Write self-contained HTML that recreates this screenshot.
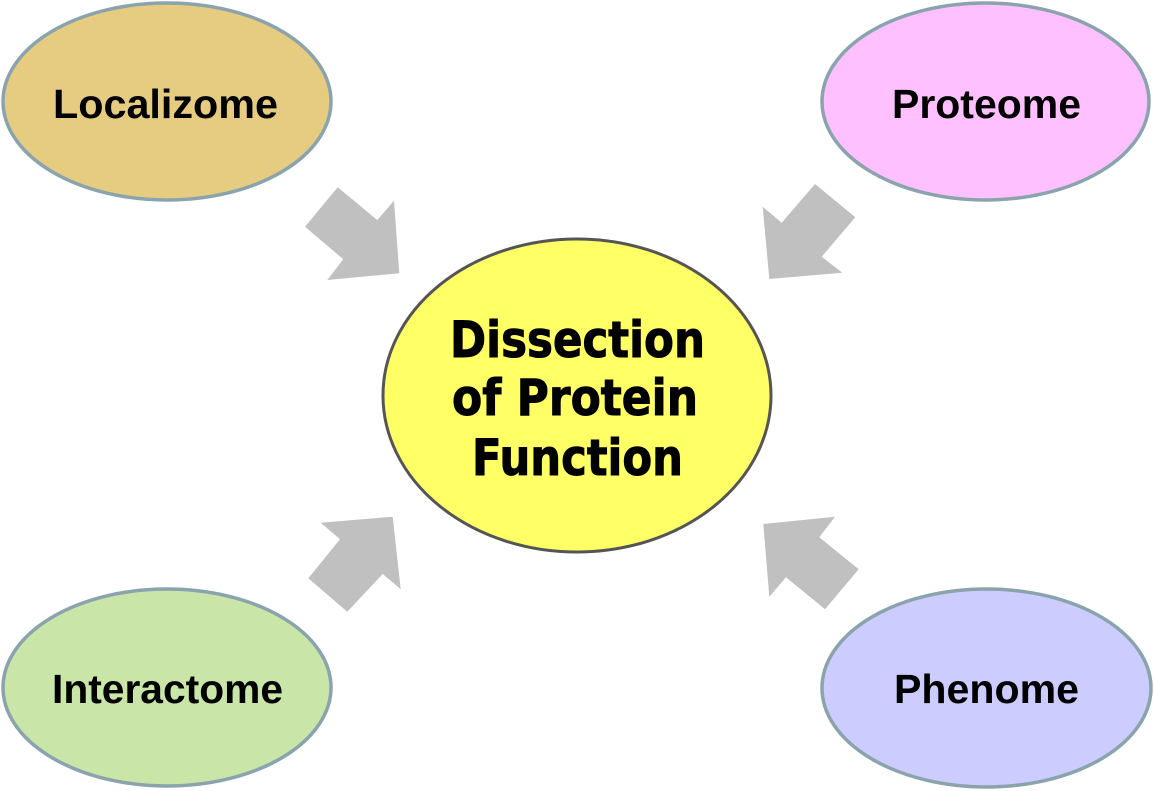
<!DOCTYPE html>
<html>
<head>
<meta charset="utf-8">
<style>
  html, body { margin: 0; padding: 0; background: #ffffff; }
  svg { display: block; }
</style>
</head>
<body>
<svg width="1154" height="791" viewBox="0 0 1154 791" xmlns="http://www.w3.org/2000/svg">
  <rect x="0" y="0" width="1154" height="791" fill="#ffffff"/>

  <!-- Arrows -->
  <g fill="#c0c0c0">
    <polygon points="337.7,187.3 377.3,220 394,200.7 399.3,273.3 327.3,280 343.3,259.3 305,226.7"/>
    <polygon points="815,184 855.3,217.3 821.7,256.7 842.3,272.7 769.3,279 762.7,206.7 781.7,222.7"/>
    <polygon points="320.7,522.7 392.7,516.7 400.7,589.3 382.7,574 347.3,611.7 308.3,578.3 340,539.3"/>
    <polygon points="763.3,524 835,516.7 819.3,537.3 858.7,569.3 825,609.3 786,577.3 769.3,596.7"/>
  </g>

  <!-- Outer ellipses -->
  <ellipse cx="167" cy="101.5" rx="164" ry="98.5" fill="#e6cc80" stroke="#8aa3ad" stroke-width="3.5"/>
  <ellipse cx="985.5" cy="101.5" rx="163.5" ry="98.5" fill="#ffc0ff" stroke="#8aa3ad" stroke-width="3.5"/>
  <ellipse cx="167" cy="687.5" rx="164" ry="98.5" fill="#c9e5a8" stroke="#8aa3ad" stroke-width="3.5"/>
  <ellipse cx="986.5" cy="688" rx="164.5" ry="99" fill="#ccccff" stroke="#8aa3ad" stroke-width="3.5"/>

  <!-- Center ellipse -->
  <ellipse cx="577" cy="395.5" rx="194" ry="156.5" fill="#ffff66" stroke="#555555" stroke-width="3"/>

  <!-- Labels -->
  <g font-family="'Liberation Sans', Arial, sans-serif" font-weight="bold" font-size="41" fill="#000000">
    <text x="53" y="118" textLength="225" lengthAdjust="spacingAndGlyphs">Localizome</text>
    <text x="892" y="118" textLength="189" lengthAdjust="spacingAndGlyphs">Proteome</text>
    <text x="52" y="703" textLength="231" lengthAdjust="spacingAndGlyphs">Interactome</text>
    <text x="894" y="703" textLength="185" lengthAdjust="spacingAndGlyphs">Phenome</text>
  </g>

  <g font-family="'DejaVu Sans', Verdana, sans-serif" font-weight="bold" font-size="50" fill="#000000" stroke="#000000" stroke-width="1">
    <text x="450" y="357" textLength="255" lengthAdjust="spacingAndGlyphs">Dissection</text>
    <text x="452" y="415" textLength="246" lengthAdjust="spacingAndGlyphs">of Protein</text>
    <text x="472" y="475" textLength="211" lengthAdjust="spacingAndGlyphs">Function</text>
  </g>
</svg>
</body>
</html>
